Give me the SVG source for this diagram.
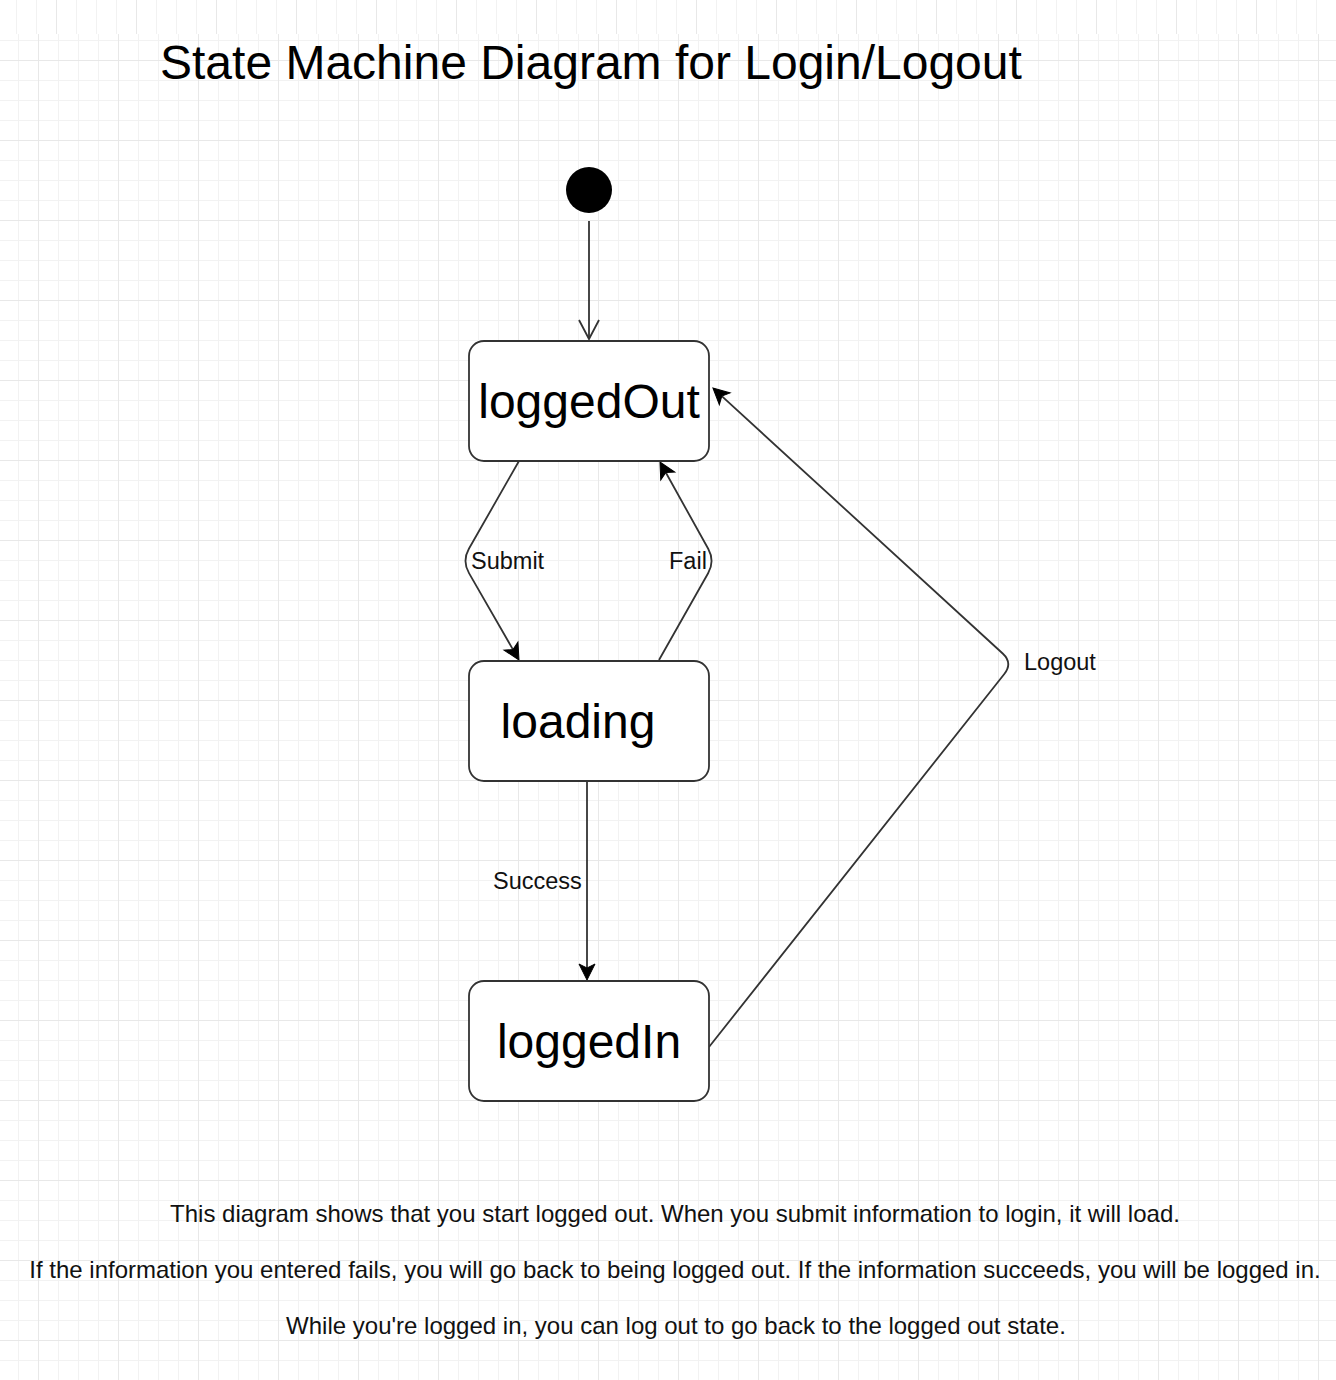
<svg xmlns="http://www.w3.org/2000/svg" width="1336" height="1380" viewBox="0 0 1336 1380">
  <style>
    .state { fill: #ffffff; stroke: #333333; stroke-width: 1.8; }
    .stext { font-family: "Liberation Sans", Arial, sans-serif; font-size: 48px; fill: #000000; text-anchor: middle; }
    .edge { fill: none; stroke: #333333; stroke-width: 1.8; }
    .lbl { font-family: "Liberation Sans", Arial, sans-serif; font-size: 23.5px; fill: #111111; }
    .note { font-family: "Liberation Sans", Arial, sans-serif; font-size: 24px; fill: #111111; text-anchor: middle; }
    .title { font-family: "Liberation Sans", Arial, sans-serif; font-size: 48px; fill: #000000; }
  </style>
  <defs>
    <pattern id="grid" x="38" y="60" width="80" height="80" patternUnits="userSpaceOnUse">
      <rect x="20" y="0" width="1" height="80" fill="#f2f2f2"/>
      <rect x="40" y="0" width="1" height="80" fill="#f2f2f2"/>
      <rect x="60" y="0" width="1" height="80" fill="#f2f2f2"/>
      <rect x="0" y="20" width="80" height="1" fill="#f2f2f2"/>
      <rect x="0" y="40" width="80" height="1" fill="#f2f2f2"/>
      <rect x="0" y="60" width="80" height="1" fill="#f2f2f2"/>
      <rect x="0" y="0" width="1" height="80" fill="#e8e8e8"/>
      <rect x="0" y="0" width="80" height="1" fill="#e8e8e8"/>
    </pattern>
    <pattern id="gridtop" x="56" y="0" width="80" height="80" patternUnits="userSpaceOnUse">
      <rect x="20" y="0" width="1" height="80" fill="#f2f2f2"/>
      <rect x="40" y="0" width="1" height="80" fill="#f2f2f2"/>
      <rect x="60" y="0" width="1" height="80" fill="#f2f2f2"/>
      <rect x="0" y="0" width="1" height="80" fill="#e8e8e8"/>
    </pattern>
    <marker id="classic" viewBox="-6 -10 20 20" refX="0" refY="0" markerWidth="20" markerHeight="20" markerUnits="userSpaceOnUse" orient="auto">
      <path d="M12,0 L-4,-8 L0,0 L-4,8 Z" fill="#000000" stroke="#000000" stroke-width="1" stroke-linejoin="miter"/>
    </marker>
    <marker id="open" viewBox="-22 -12 26 24" refX="0" refY="0" markerWidth="26" markerHeight="24" markerUnits="userSpaceOnUse" orient="auto">
      <path d="M-19,-10 L0,0 L-19,10" fill="none" stroke="#333333" stroke-width="1.8"/>
    </marker>
  </defs>

  <rect x="0" y="0" width="1336" height="1380" fill="#ffffff"/>
  <rect x="0" y="34" width="1336" height="1346" fill="url(#grid)"/>
  <rect x="0" y="0" width="1336" height="34" fill="url(#gridtop)"/>

  <text class="title" x="160" y="79">State Machine Diagram for Login/Logout</text>

  <g id="connectors">
    <path id="e-init" class="edge" d="M589,221 L589,339" marker-end="url(#open)"/>
    <path id="e-submit" class="edge" d="M519,461 L468.9,548.8 Q462,561 469,573.1 L513,649.6" marker-end="url(#classic)"/>
    <path id="e-fail" class="edge" d="M659,660 L708.1,573.2 Q715,561 708.2,548.8 L665.8,472.5" marker-end="url(#classic)"/>
    <path id="e-success" class="edge" d="M587,781 L587,968" marker-end="url(#classic)"/>
    <path id="e-logout" class="edge" d="M709,1047 L1004.3,674 Q1013,663 1002.7,653.5 L721.8,396.1" marker-end="url(#classic)"/>
    <text class="lbl" x="471" y="569">Submit</text>
    <text class="lbl" x="669" y="569">Fail</text>
    <text class="lbl" x="493" y="889">Success</text>
    <text class="lbl" x="1024" y="670">Logout</text>
  </g>

  <g id="initial">
    <circle cx="589" cy="190" r="23" fill="#000000"/>
  </g>

  <g id="loggedOut">
    <rect class="state" x="469" y="341" width="240" height="120" rx="15" ry="15"/>
    <text class="stext" x="589" y="418">loggedOut</text>
  </g>

  <g id="loading">
    <rect class="state" x="469" y="661" width="240" height="120" rx="15" ry="15"/>
    <text class="stext" x="578" y="738">loading</text>
  </g>

  <g id="loggedIn">
    <rect class="state" x="469" y="981" width="240" height="120" rx="15" ry="15"/>
    <text class="stext" x="589" y="1058">loggedIn</text>
  </g>

  <g id="description">
    <text class="note" x="675" y="1222">This diagram shows that you start logged out. When you submit information to login, it will load.</text>
    <text class="note" x="675" y="1278">If the information you entered fails, you will go back to being logged out. If the information succeeds, you will be logged in.</text>
    <text class="note" x="676" y="1334">While you're logged in, you can log out to go back to the logged out state.</text>
  </g>
</svg>
